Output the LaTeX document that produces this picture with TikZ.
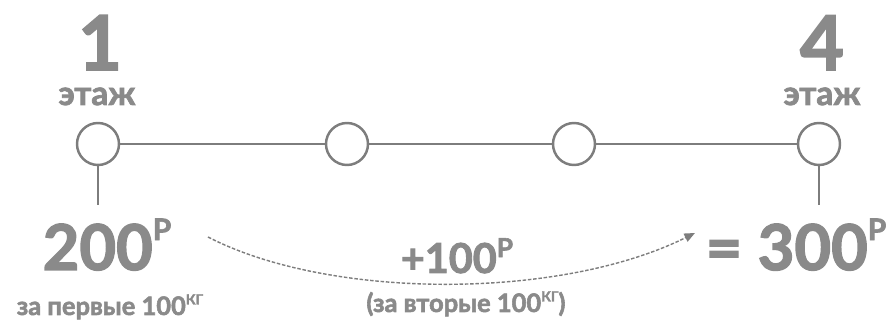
\documentclass[tikz,border=0pt]{standalone}
\usepackage{fontspec}
\setmainfont{Lato}[BoldFeatures={FakeBold=2.2}]
\usepackage{xcolor}
\usetikzlibrary{positioning, arrows.meta}

\definecolor{tone}{RGB}{138,138,138}
\definecolor{wire}{RGB}{125,125,125}
\newcommand{\fsz}[1]{\fontsize{#1}{#1}\selectfont}

\begin{document}
\begin{tikzpicture}[x=0.02cm, y=-0.02cm,
    floor/.style={circle, draw=wire, line width=1.4pt, fill=white, minimum size=0.84cm, inner sep=0pt},
    txt/.style={text=tone, font=\bfseries, anchor=base, inner sep=0pt},
    level/.style={txt, text depth=0pt},
    word/.style={txt, text height=10pt, text depth=0pt}]
    \useasboundingbox (0,0) rectangle (894,320);

    \node (c1) at (98,144) [floor] {};
    \node (c2) at (347,144) [floor] {};
    \node (c3) at (574,144) [floor] {};
    \node (c4) at (819,144) [floor] {};

    \node (n1) at (100,70) [level] {\fsz{43}1};
    \node (e1) at (97,105) [word] {\fsz{19}этаж};
    \node (n4) at (822,70) [level] {\fsz{43}4};
    \node (e4) at (822,105) [word] {\fsz{19}этаж};

    \node (p200) at (107,270) [txt] {\fsz{36}200\raisebox{17pt}{\fsz{17}Р}};
    \node (p100) at (457,273) [txt] {\fsz{23.5}+100\raisebox{9pt}{\fsz{15}Р}};
    \node (p300) at (796,270) [txt] {\fsz{36}= 300\raisebox{17pt}{\fsz{17}Р}};
    \node (k1) at (110,315) [txt] {\fsz{14.5}за первые 100\raisebox{6pt}{\fsz{8}КГ}};
    \node (k2) at (466,312) [txt] {\fsz{14.5}(за вторые 100\raisebox{6pt}{\fsz{8}КГ})};

    \coordinate (v1) at (98,205);
    \coordinate (v4) at (819,205);
    \coordinate (a1) at (208,237);
    \coordinate (a2) at (695,233);

    \draw [wire, line width=1.7pt] (c1) -- (c2);
    \draw [wire, line width=1.7pt] (c2) -- (c3);
    \draw [wire, line width=1.7pt] (c3) -- (c4);
    \draw [wire, line width=1.7pt] (c1) -- (v1);
    \draw [wire, line width=1.7pt] (c4) -- (v4);
    \draw [wire, line width=0.8pt, dash pattern=on 2pt off 1pt, -{Triangle[length=6pt, width=5pt]}]
        (a1) .. controls (330,300) and (560,300) .. (a2);
\end{tikzpicture}
\end{document}
